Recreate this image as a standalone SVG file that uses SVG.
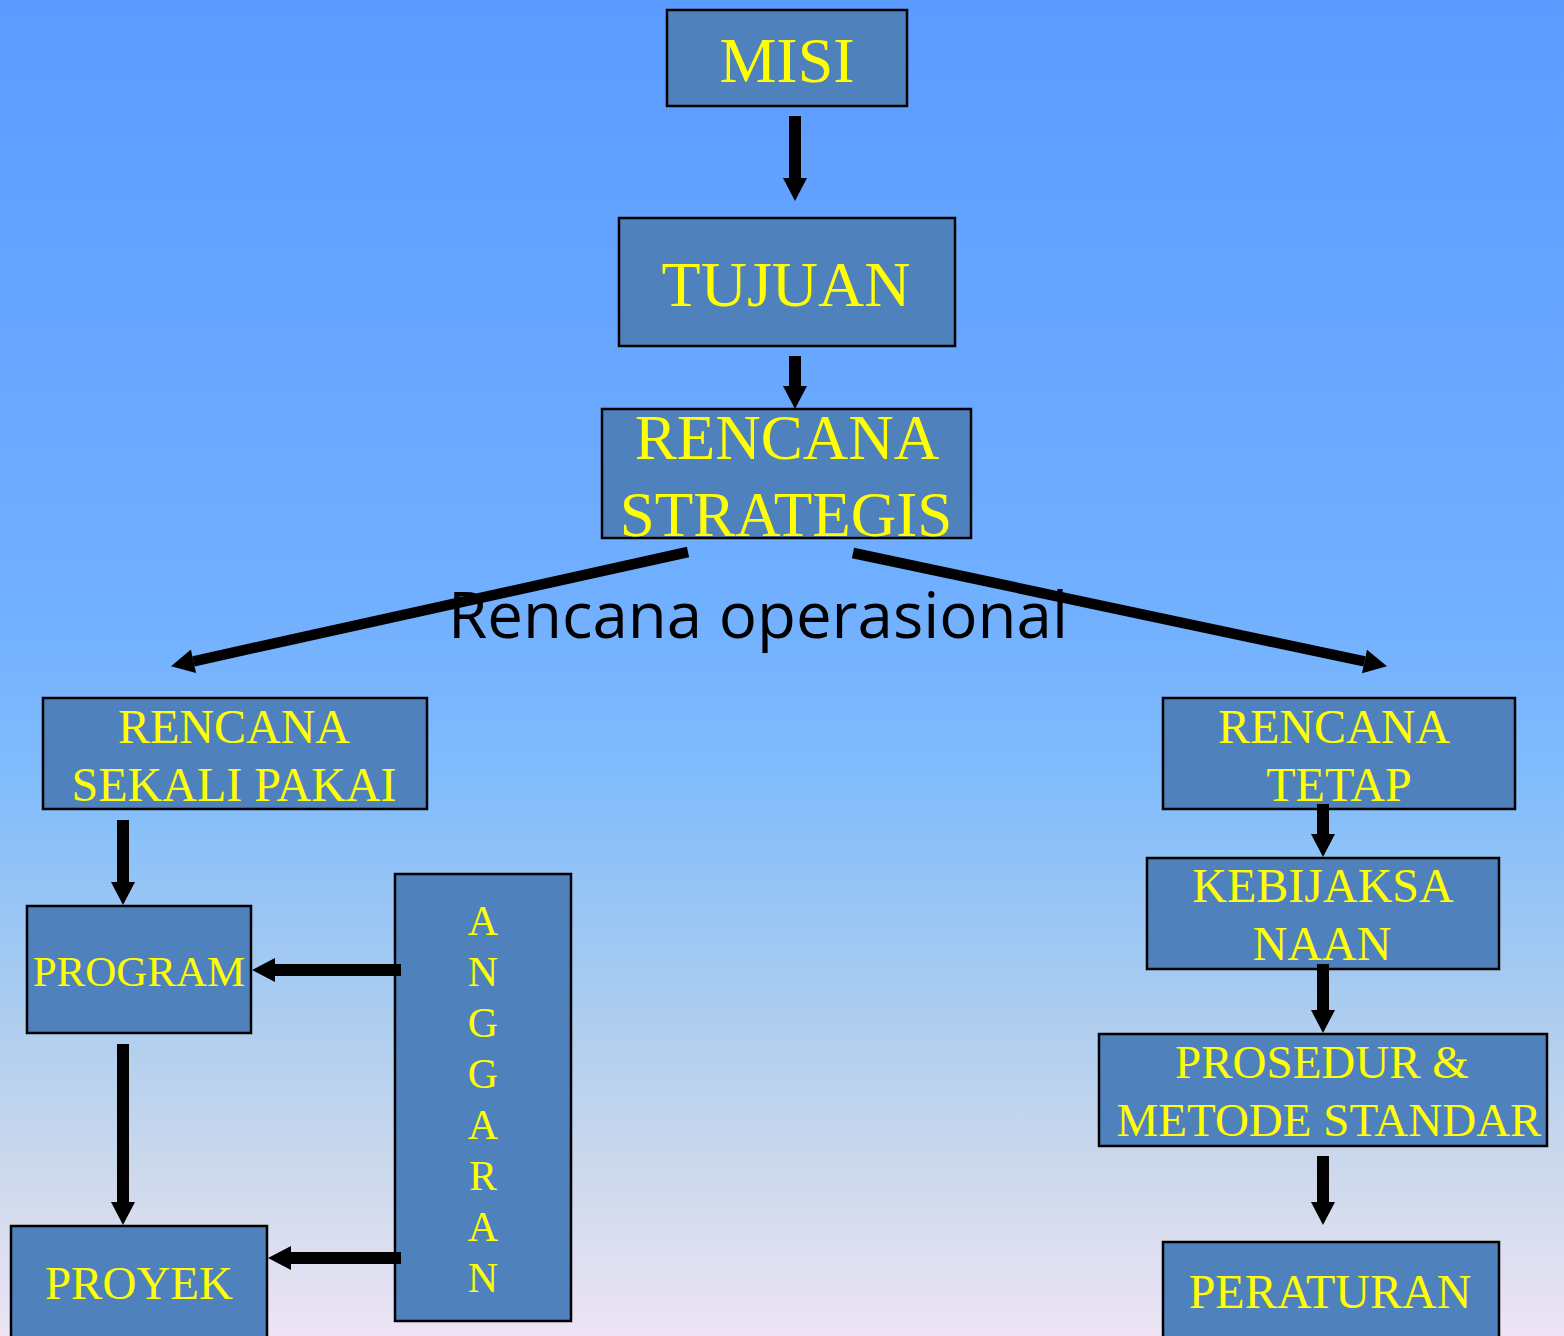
<svg xmlns="http://www.w3.org/2000/svg" width="1564" height="1336" viewBox="0 0 1564 1336">
<defs>
<linearGradient id="bg" x1="0" y1="0" x2="0" y2="1">
<stop offset="0" stop-color="#5B9BFF"/>
<stop offset="0.45" stop-color="#71AFFF"/>
<stop offset="0.58" stop-color="#80BCFC"/>
<stop offset="0.75" stop-color="#AACCF0"/>
<stop offset="0.88" stop-color="#CDD9EC"/>
<stop offset="1" stop-color="#EDE4F5"/>
</linearGradient>
<marker id="ah" markerUnits="userSpaceOnUse" markerWidth="24" markerHeight="24" refX="0" refY="12" orient="auto" overflow="visible">
<path d="M0,0 L23,12 L0,24 Z" fill="#000"/>
</marker>
</defs>
<style>
.box{fill:#4F81BD;stroke:#000;stroke-width:2.5}
.t{font-family:"Liberation Serif","Times New Roman",serif;fill:#FFFF00;text-anchor:middle}
.c{stroke:#000;stroke-width:12;fill:none;marker-end:url(#ah)}
.d{stroke:#000;stroke-width:10.5;fill:none;marker-end:url(#ah)}
</style>
<rect x="0" y="0" width="1564" height="1336" fill="url(#bg)"/>

<g id="label-operasional">
<text x="448" y="638" font-family="'Open Sans','DejaVu Sans',sans-serif" font-size="64" fill="#000" textLength="620" lengthAdjust="spacingAndGlyphs">Rencana operasional</text>
</g>

<g id="misi">
<rect class="box" x="667" y="10" width="240" height="96"/>
<text class="t" x="787" y="82" font-size="64">MISI</text>
</g>

<g id="tujuan">
<rect class="box" x="619" y="218" width="336" height="128"/>
<text class="t" x="786" y="306" font-size="64">TUJUAN</text>
</g>

<g id="rencana-strategis">
<rect class="box" x="602" y="409" width="369" height="129"/>
<text class="t" x="787" y="459" font-size="63">RENCANA</text>
<text class="t" x="786" y="536" font-size="63">STRATEGIS</text>
</g>

<g id="rencana-sekali-pakai">
<rect class="box" x="43" y="698" width="384" height="111"/>
<text class="t" x="234" y="743" font-size="48">RENCANA</text>
<text class="t" x="234" y="801" font-size="48">SEKALI PAKAI</text>
</g>

<g id="program">
<rect class="box" x="27" y="906" width="224" height="127"/>
<text class="t" x="139" y="986" font-size="43">PROGRAM</text>
</g>

<g id="proyek">
<rect class="box" x="11" y="1226" width="256" height="120"/>
<text class="t" x="139" y="1299" font-size="47">PROYEK</text>
</g>

<g id="anggaran">
<rect class="box" x="395" y="874" width="176" height="447"/>
<text class="t" x="483" y="935" font-size="42">A</text>
<text class="t" x="483" y="986" font-size="42">N</text>
<text class="t" x="483" y="1037" font-size="42">G</text>
<text class="t" x="483" y="1088" font-size="42">G</text>
<text class="t" x="483" y="1139" font-size="42">A</text>
<text class="t" x="483" y="1190" font-size="42">R</text>
<text class="t" x="483" y="1241" font-size="42">A</text>
<text class="t" x="483" y="1292" font-size="42">N</text>
</g>

<g id="rencana-tetap">
<rect class="box" x="1163" y="698" width="352" height="111"/>
<text class="t" x="1334" y="743" font-size="48">RENCANA</text>
<text class="t" x="1339" y="801" font-size="48">TETAP</text>
</g>

<g id="kebijaksanaan">
<rect class="box" x="1147" y="858" width="352" height="111"/>
<text class="t" x="1323" y="902" font-size="48">KEBIJAKSA</text>
<text class="t" x="1322" y="960" font-size="48">NAAN</text>
</g>

<g id="prosedur">
<rect class="box" x="1099" y="1034" width="448" height="112"/>
<text class="t" x="1322" y="1078" font-size="47">PROSEDUR &amp;</text>
<text class="t" x="1329" y="1136" font-size="47">METODE STANDAR</text>
</g>

<g id="peraturan">
<rect class="box" x="1163" y="1242" width="336" height="110"/>
<text class="t" x="1330" y="1308" font-size="48">PERATURAN</text>
</g>

<g id="connectors">
<line class="c" x1="795" y1="116" x2="795" y2="178"/>
<line class="c" x1="795" y1="356" x2="795" y2="386"/>
<line class="d" x1="688" y1="552" x2="193.5" y2="661.3"/>
<line class="d" x1="853" y1="553" x2="1364.5" y2="661.4"/>
<line class="c" x1="123" y1="820" x2="123" y2="882"/>
<line class="c" x1="123" y1="1044" x2="123" y2="1202"/>
<line class="c" x1="401" y1="970" x2="275" y2="970"/>
<line class="c" x1="401" y1="1258" x2="291" y2="1258"/>
<line class="c" x1="1323" y1="804" x2="1323" y2="834"/>
<line class="c" x1="1323" y1="964" x2="1323" y2="1010"/>
<line class="c" x1="1323" y1="1156" x2="1323" y2="1202"/>
</g>
</svg>
